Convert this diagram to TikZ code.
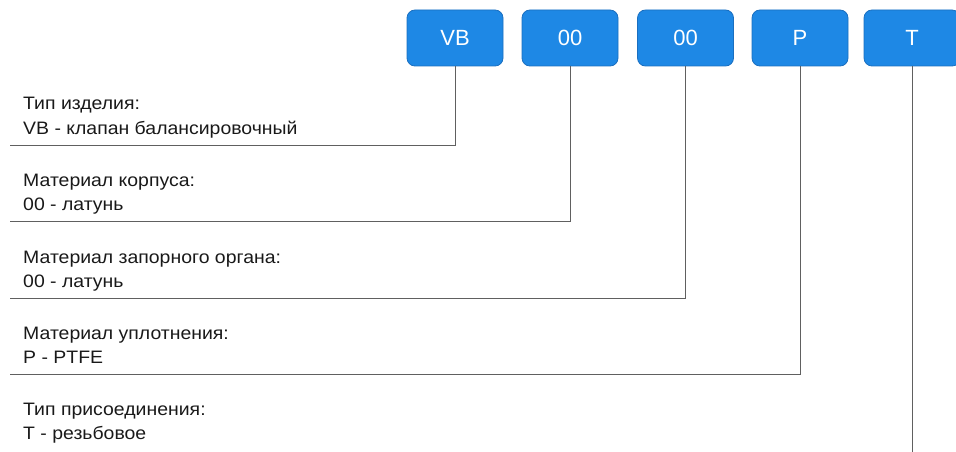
\documentclass[tikz,border=0pt]{standalone}
\usepackage{fontspec}
\setmainfont{Liberation Sans}
\newfontfamily\descfont[FakeStretch=1.08]{Liberation Sans}
\definecolor{boxblue}{HTML}{1E88E5}
\definecolor{boxedge}{HTML}{1A6FC0}
\definecolor{linegray}{HTML}{606060}
\tikzset{
  code/.style={draw=boxedge, fill=boxblue, rounded corners=8pt, line width=0.8pt,
    minimum width=96pt, minimum height=56pt, text=white,
    font=\fontsize{22}{26}\selectfont},
  desc/.style={anchor=base west, inner sep=0pt, text=black!90,
    font=\descfont\fontsize{18}{21}\selectfont},
  link/.style={draw=linegray, line width=1pt}
}
\begin{document}
\begin{tikzpicture}[x=1pt,y=-1pt]
\useasboundingbox (0,0) rectangle (956,452);

\node[code] (vb) at (455,38) {VB}; % type
\node[code] (body) at (570,38) {00}; % body material
\node[code] (disc) at (685.5,38) {00}; % disc material
\node[code] (seal) at (800,38) {P}; % seal
\node[code] (conn) at (912,38) {T}; % connection

\node[desc] (typ) at (23,110) {Тип изделия:};
\node[desc] (typval) at (23,134) {VB - клапан балансировочный};
\node[desc] (mat) at (23,186) {Материал корпуса:};
\node[desc] (matval) at (23,210) {00 - латунь};
\node[desc] (shut) at (23,263) {Материал запорного органа:};
\node[desc] (shutval) at (23,287) {00 - латунь};
\node[desc] (sl) at (23,339) {Материал уплотнения:};
\node[desc] (slval) at (23,363) {P - PTFE};
\node[desc] (cn) at (23,415) {Тип присоединения:};
\node[desc] (cnval) at (23,439) {T - резьбовое};

\coordinate (l1) at (10,145);
\coordinate (l2) at (10,221);
\coordinate (l3) at (10,298);
\coordinate (l4) at (10,374);
\coordinate (l5) at (912,452);

\draw[link] (vb.south) |- (l1);
\draw[link] (body.south) |- (l2);
\draw[link] (disc.south) |- (l3);
\draw[link] (seal.south) |- (l4);
\draw[link] (conn.south) -- (conn.south |- l5);

\end{tikzpicture}
\end{document}
